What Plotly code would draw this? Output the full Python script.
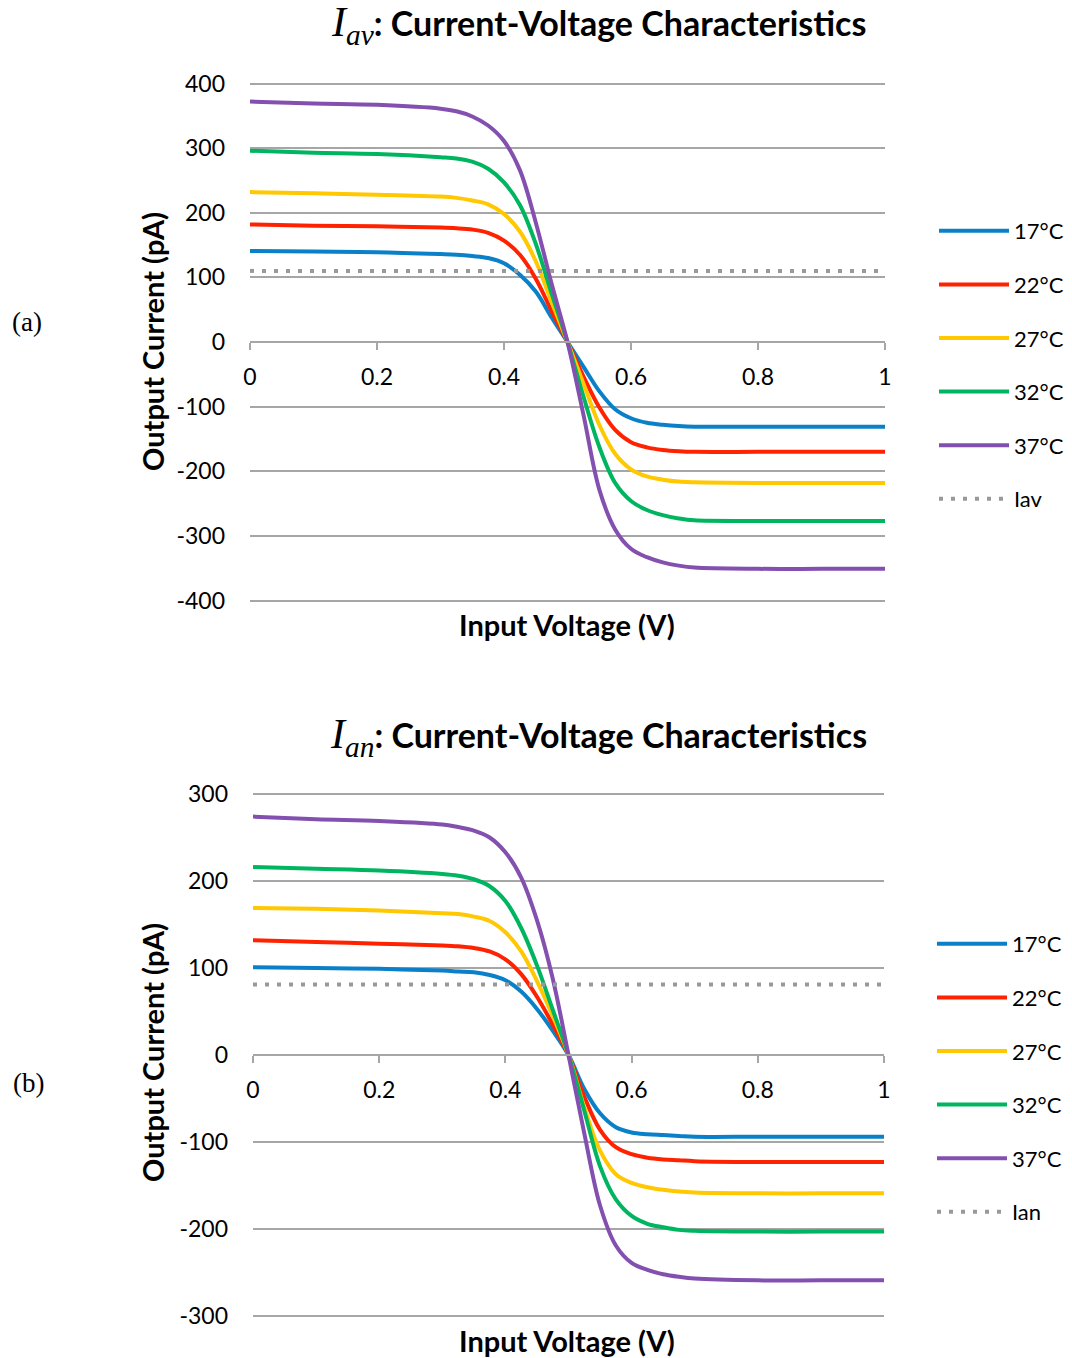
import plotly.graph_objects as go

# ---------------- data ----------------
voltage = [0, 0.1, 0.2, 0.3, 0.325, 0.35, 0.375, 0.4, 0.425, 0.45, 0.475, 0.5,
           0.525, 0.55, 0.575, 0.6, 0.625, 0.65, 0.675, 0.7, 0.8, 0.9, 1.0]

temps = ["17°C", "22°C", "27°C", "32°C", "37°C"]

iav_17 = [141, 140, 139, 136, 135, 133, 130, 122, 104, 78, 38, 0,
          -38, -76, -104, -118, -125, -128, -130, -131, -131, -131, -131]
iav_22 = [182, 180, 179, 177, 176, 174, 169, 157, 135, 98, 48, 0,
          -53, -101, -136, -155, -163, -167, -169, -170, -170, -170, -170]
iav_27 = [232, 230, 228, 225, 223, 219, 213, 198, 171, 125, 62, 0,
          -64, -128, -173, -197, -208, -213, -216, -217, -218, -218, -218]
iav_32 = [296, 293, 291, 286, 284, 279, 268, 247, 212, 152, 75, 0,
          -84, -162, -218, -246, -260, -268, -273, -276, -277, -277, -277]
iav_37 = [372, 369, 367, 361, 357, 349, 335, 311, 266, 185, 90, 0,
          -112, -228, -290, -320, -333, -341, -346, -349, -351, -351, -351]
iav_ref = 110

ian_17 = [101, 100, 99, 97, 96, 95, 92, 86, 73, 53, 28, 0,
          -39, -67, -83, -89, -91, -92, -93, -94, -94, -94, -94]
ian_22 = [132, 130, 128, 126, 125, 123, 119, 110, 93, 67, 35, 0,
          -48, -86, -106, -114, -118, -120, -121, -122, -123, -123, -123]
ian_27 = [169, 168, 166, 163, 162, 159, 154, 141, 119, 85, 45, 0,
          -60, -110, -137, -147, -152, -155, -157, -158, -159, -159, -159]
ian_32 = [216, 214, 212, 208, 206, 202, 194, 177, 146, 103, 52, 0,
          -64, -128, -166, -185, -194, -198, -201, -202, -203, -203, -203]
ian_37 = [274, 271, 269, 265, 262, 258, 250, 233, 204, 155, 88, 0,
          -90, -173, -219, -239, -247, -252, -255, -257, -259, -259, -259]
ian_ref = 81

x_ticks = [0, 0.2, 0.4, 0.6, 0.8, 1]
x_ticktext = ["0", "0.2", "0.4", "0.6", "0.8", "1"]
y_ticks_a = [-400, -300, -200, -100, 0, 100, 200, 300, 400]
y_ticks_b = [-300, -200, -100, 0, 100, 200, 300]

colors = ["#0a80c8", "#ff2200", "#ffc800", "#00b560", "#8450b0"]
ref_color = "#999999"

# ---------------- layout geometry ----------------
W, H = 1072, 1358
FONT = "Lato, 'Open Sans', sans-serif"


def px_x(p):
    return p / W


def px_y(p):
    return 1 - p / H


# top panel: 0 at y=342 px, 400 units over 258.5 px
s_a = 517 / 800
ext_a = 403
dom_ya = [px_y(342 + ext_a * s_a), px_y(342 - ext_a * s_a)]
dom_xa = [px_x(250), px_x(885)]
# bottom panel: 0 at y=1055 px, 300 units over 261 px
s_b = 522 / 600
ext_b = 303
dom_yb = [px_y(1055 + ext_b * s_b), px_y(1055 - ext_b * s_b)]
dom_xb = [px_x(253), px_x(884)]

fig = go.Figure()

series_a = [iav_17, iav_22, iav_27, iav_32, iav_37]
series_b = [ian_17, ian_22, ian_27, ian_32, ian_37]

for i, (name, ys) in enumerate(zip(temps, series_a)):
    fig.add_trace(go.Scatter(x=voltage, y=ys, name=name, mode="lines",
                             line=dict(color=colors[i], width=4, shape="spline", smoothing=1.0),
                             xaxis="x", yaxis="y", legend="legend", legendgroup="a" + str(i)))
fig.add_trace(go.Scatter(x=[0, 1], y=[iav_ref, iav_ref], name="Iav", mode="lines",
                         line=dict(color=ref_color, width=4, dash="4px,8px"),
                         xaxis="x", yaxis="y", legend="legend", legendgroup="a_ref"))

for i, (name, ys) in enumerate(zip(temps, series_b)):
    fig.add_trace(go.Scatter(x=voltage, y=ys, name=name, mode="lines",
                             line=dict(color=colors[i], width=4, shape="spline", smoothing=1.0),
                             xaxis="x2", yaxis="y2", legend="legend2", legendgroup="b" + str(i)))
fig.add_trace(go.Scatter(x=[0, 1], y=[ian_ref, ian_ref], name="Ian", mode="lines",
                         line=dict(color=ref_color, width=4, dash="4px,8px"),
                         xaxis="x2", yaxis="y2", legend="legend2", legendgroup="b_ref"))

grid_color = "#a6a6a6"
tickfont = dict(family=FONT, size=23, color="#000000")

xaxis_common = dict(range=[0, 1], tickvals=x_ticks, ticktext=x_ticktext, showgrid=False,
                    zeroline=False, showline=True, linecolor=grid_color, linewidth=2,
                    ticks="outside", ticklen=7, tickwidth=2, tickcolor=grid_color,
                    tickfont=tickfont, anchor="free", ticklabelstandoff=7, fixedrange=True)
yaxis_common = dict(showgrid=True, gridcolor=grid_color, gridwidth=2, zeroline=False,
                    showline=False, ticks="", tickfont=tickfont, ticklabelstandoff=24,
                    fixedrange=True)

fig.update_layout(
    width=W, height=H,
    margin=dict(l=0, r=0, t=0, b=0, pad=0, autoexpand=False),
    paper_bgcolor="white", plot_bgcolor="white",
    font=dict(family=FONT, color="#000000"),
    xaxis=dict(domain=dom_xa, position=(dom_ya[0] + dom_ya[1]) / 2, **xaxis_common),
    yaxis=dict(domain=dom_ya, range=[-ext_a, ext_a], tickvals=y_ticks_a,
               ticktext=[str(v) for v in y_ticks_a], anchor="x", **yaxis_common),
    xaxis2=dict(domain=dom_xb, position=(dom_yb[0] + dom_yb[1]) / 2, **xaxis_common),
    yaxis2=dict(domain=dom_yb, range=[-ext_b, ext_b], tickvals=y_ticks_b,
                ticktext=[str(v) for v in y_ticks_b], anchor="x2", **yaxis_common),
    legend=dict(x=px_x(934), y=px_y(210), xanchor="left", yanchor="top",
                font=dict(family=FONT, size=22), itemwidth=70, tracegroupgap=22,
                traceorder="grouped", bgcolor="rgba(0,0,0,0)"),
    legend2=dict(x=px_x(932), y=px_y(923), xanchor="left", yanchor="top",
                 font=dict(family=FONT, size=22), itemwidth=70, tracegroupgap=22,
                 traceorder="grouped", bgcolor="rgba(0,0,0,0)"),
    showlegend=True,
)

title_a = ("<span style=\"font-family:Liberation Serif;font-style:italic;font-weight:normal;font-size:42px\">"
           "I<sub>av</sub></span><b>: Current-Voltage Characteristics</b>")
title_b = ("<span style=\"font-family:Liberation Serif;font-style:italic;font-weight:normal;font-size:42px\">"
           "I<sub>an</sub></span><b>: Current-Voltage Characteristics</b>")

annos = [
    dict(text=title_a, x=px_x(598), y=px_y(25), font=dict(family=FONT, size=34)),
    dict(text=title_b, x=px_x(598), y=px_y(737), font=dict(family=FONT, size=34)),
    dict(text="<b>Output Current (pA)</b>", x=px_x(152), y=px_y(342), textangle=-90,
         font=dict(family=FONT, size=29)),
    dict(text="<b>Output Current (pA)</b>", x=px_x(152), y=px_y(1053), textangle=-90,
         font=dict(family=FONT, size=29)),
    dict(text="<b>Input Voltage (V)</b>", x=px_x(567), y=px_y(625), font=dict(family=FONT, size=29)),
    dict(text="<b>Input Voltage (V)</b>", x=px_x(567), y=px_y(1340), font=dict(family=FONT, size=29)),
    dict(text="(a)", x=px_x(27), y=px_y(322), font=dict(family="Liberation Serif", size=27)),
    dict(text="(b)", x=px_x(28), y=px_y(1083), font=dict(family="Liberation Serif", size=27)),
]
for a in annos:
    a.update(xref="paper", yref="paper", showarrow=False, xanchor="center", yanchor="middle")
fig.update_layout(annotations=annos)

fig.write_html("out.html")
